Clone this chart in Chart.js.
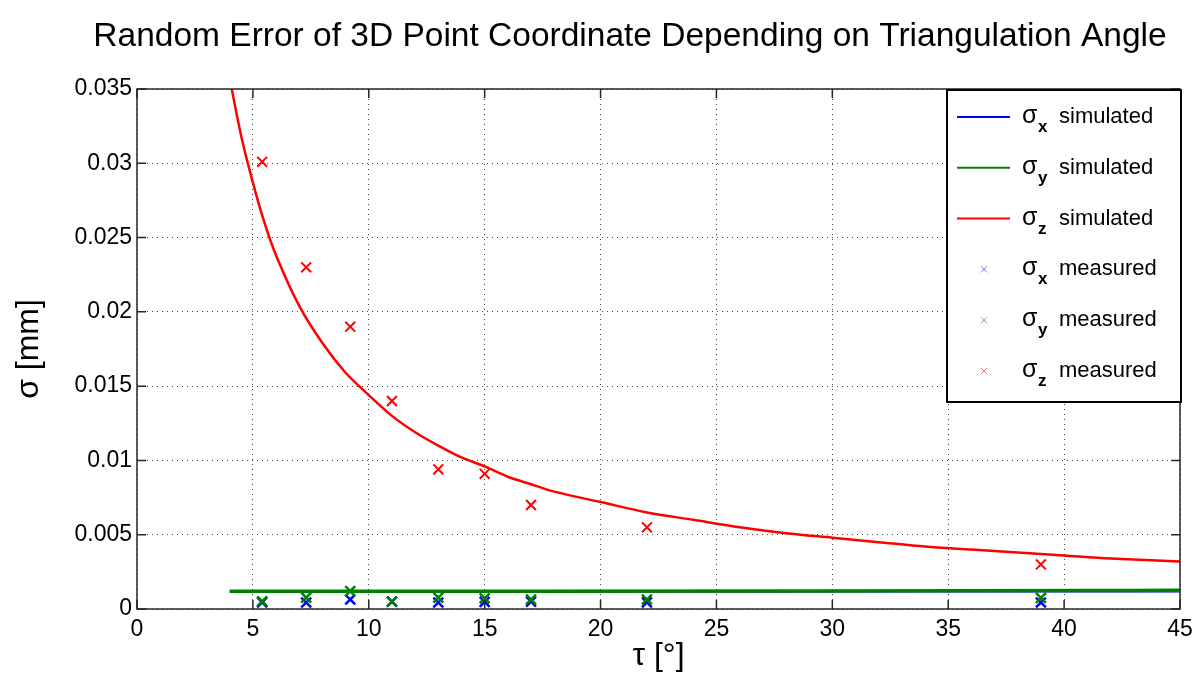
<!DOCTYPE html>
<html>
<head>
<meta charset="utf-8">
<script src="https://cdn.jsdelivr.net/npm/chart.js@4"></script>
<style>
  html, body { margin: 0; padding: 0; background: #fff; }
</style>
</head>
<body>
<canvas id="chart" width="1195" height="675"></canvas>
<script>
// simulated curves
const tauSim = [4, 4.5, 5, 5.5, 6, 7, 8, 9, 10, 11, 12, 13, 14, 15, 16, 17, 18, 20, 22, 24, 26, 28, 30, 32, 34, 36, 38, 40, 42, 45];
const sigmaZSim = [0.0357, 0.0318, 0.0287, 0.0260, 0.0238, 0.0204, 0.0179, 0.0159, 0.0144, 0.0130, 0.0119, 0.0110, 0.0102, 0.0096, 0.0089, 0.0084, 0.0079, 0.0072, 0.0065, 0.0060, 0.0055, 0.0051, 0.0048, 0.0045, 0.0042, 0.0040, 0.0038, 0.0036, 0.0034, 0.0032];
const tauFlat = [4, 30, 41, 45];
const sigmaXSim = [0.00117, 0.00117, 0.00117, 0.00117];
const sigmaYSim = [0.00120, 0.00121, 0.00124, 0.00127];

// measured points
const tauMeas = [5.4, 7.3, 9.2, 11.0, 13.0, 15.0, 17.0, 22.0, 39.0];
const sigmaXMeas = [0.00045, 0.00044, 0.00064, 0.00050, 0.00044, 0.00048, 0.00050, 0.00045, 0.00044];
const sigmaYMeas = [0.00052, 0.00077, 0.00120, 0.00050, 0.00077, 0.00072, 0.00064, 0.00064, 0.00075];
const sigmaZMeas = [0.0301, 0.0230, 0.0190, 0.0140, 0.0094, 0.0091, 0.0070, 0.0055, 0.0030];

// axes
const xTickValues = [0, 5, 10, 15, 20, 25, 30, 35, 40, 45];
const xTickLabels = ['0', '5', '10', '15', '20', '25', '30', '35', '40', '45'];
const yTickValues = [0, 0.005, 0.01, 0.015, 0.02, 0.025, 0.03, 0.035];
const yTickLabels = ['0', '0.005', '0.01', '0.015', '0.02', '0.025', '0.03', '0.035'];

const titleText = 'Random Error of 3D Point Coordinate Depending on Triangulation Angle';

const BLUE = '#0000ff', GREEN = '#008000', RED = '#ff0000';
const FONT = 'Liberation Sans, Arial, sans-serif';

const pts = (xs, ys) => xs.map((x, i) => ({ x: x, y: ys[i] }));

function simLine(ys, xs, color, width, order, sub) {
  return {
    data: pts(xs, ys), borderColor: color, backgroundColor: color,
    showLine: true, borderWidth: width, pointRadius: 0, tension: 0.3,
    clip: 0, order: order, sub: sub, word: 'simulated', kind: 'line'
  };
}
function measSet(ys, color, order, sub, width) {
  return {
    data: pts(tauMeas, ys), borderColor: color, backgroundColor: color,
    showLine: false, pointStyle: 'crossRot', pointRadius: 7, pointBorderWidth: width,
    order: order, sub: sub, word: 'measured', kind: 'point'
  };
}

const datasets = [
  simLine(sigmaXSim, tauFlat, BLUE, 2, 6, 'x'),
  simLine(sigmaYSim, tauFlat, GREEN, 3.5, 5, 'y'),
  simLine(sigmaZSim, tauSim, RED, 2.5, 4, 'z'),
  measSet(sigmaXMeas, BLUE, 3, 'x', 2.5),
  measSet(sigmaYMeas, GREEN, 2, 'y', 2.5),
  measSet(sigmaZMeas, RED, 1, 'z', 2),
];

// MATLAB-like title, box, inward ticks and legend
const matlabBox = {
  id: 'matlabBox',
  afterDraw(chart) {
    const { ctx, chartArea: a, scales } = chart;
    const xs = scales.x, ys = scales.y;
    ctx.save();

    ctx.fillStyle = '#000';
    ctx.font = '33.5px ' + FONT;
    ctx.textAlign = 'center';
    ctx.textBaseline = 'middle';
    ctx.fillText(titleText, 630, 37);

    ctx.strokeStyle = '#262626';
    ctx.lineWidth = 1.5;
    ctx.strokeRect(a.left, a.top, a.right - a.left, a.bottom - a.top);
    ctx.beginPath();
    const tl = 9;
    xTickValues.forEach(v => {
      const px = xs.getPixelForValue(v);
      ctx.moveTo(px, a.bottom); ctx.lineTo(px, a.bottom - tl);
      ctx.moveTo(px, a.top); ctx.lineTo(px, a.top + tl);
    });
    yTickValues.forEach(v => {
      const py = ys.getPixelForValue(v);
      ctx.moveTo(a.left, py); ctx.lineTo(a.left + tl, py);
      ctx.moveTo(a.right, py); ctx.lineTo(a.right - tl, py);
    });
    ctx.stroke();

    // legend
    const w = 234, h = 312;
    const x0 = a.right - w + 1, y0 = a.top;
    ctx.fillStyle = '#fff';
    ctx.fillRect(x0, y0, w, h);
    ctx.lineWidth = 2;
    ctx.strokeStyle = '#000';
    ctx.strokeRect(x0, y0 + 1, w, h);
    chart.data.datasets.forEach((ds, i) => {
      const cy = y0 + 28 + i * 50.8;
      ctx.strokeStyle = ds.borderColor;
      if (ds.kind === 'line') {
        ctx.lineWidth = 2;
        ctx.beginPath();
        ctx.moveTo(x0 + 10, cy); ctx.lineTo(x0 + 63, cy);
        ctx.stroke();
      } else {
        ctx.globalAlpha = 0.6;
        ctx.lineWidth = 1;
        ctx.beginPath();
        ctx.moveTo(x0 + 34, cy - 3); ctx.lineTo(x0 + 40, cy + 3);
        ctx.moveTo(x0 + 40, cy - 3); ctx.lineTo(x0 + 34, cy + 3);
        ctx.stroke();
        ctx.globalAlpha = 1;
      }
      ctx.fillStyle = '#000';
      ctx.textBaseline = 'alphabetic';
      ctx.textAlign = 'left';
      ctx.font = '25px ' + FONT;
      ctx.fillText('σ', x0 + 75, cy + 6);
      ctx.font = 'bold 17px ' + FONT;
      ctx.fillText(ds.sub, x0 + 91, cy + 15);
      ctx.font = '22px ' + FONT;
      ctx.fillText(ds.word, x0 + 112, cy + 6);
    });
    ctx.restore();
  }
};

new Chart(document.getElementById('chart'), {
  type: 'scatter',
  data: { datasets: datasets },
  plugins: [matlabBox],
  options: {
    responsive: false,
    animation: false,
    layout: { padding: { left: 0, right: 15, top: 89, bottom: 0 } },
    plugins: {
      legend: { display: false },
      tooltip: { enabled: false },
      title: { display: false }
    },
    scales: {
      x: {
        type: 'linear', min: 0, max: 45,
        afterBuildTicks: s => { s.ticks = xTickValues.map(v => ({ value: v })); },
        afterFit: s => { s.height = 66; s.paddingLeft = 0; s.paddingRight = 0; },
        ticks: {
          color: '#000', padding: 7,
          font: { family: FONT, size: 23 },
          callback: (v, i) => xTickLabels[i]
        },
        grid: { color: '#444', lineWidth: 1, drawTicks: false },
        border: { display: false, dash: [1, 4] },
        title: {
          display: true, text: 'τ [°]', color: '#000',
          font: { family: FONT, size: 32 }, padding: { top: 0, bottom: 0 }
        }
      },
      y: {
        type: 'linear', min: 0, max: 0.035,
        afterBuildTicks: s => { s.ticks = yTickValues.map(v => ({ value: v })); },
        afterFit: s => { s.width = 137; s.paddingTop = 0; s.paddingBottom = 0; },
        ticks: {
          color: '#000', padding: 5,
          font: { family: FONT, size: 23 },
          callback: (v, i) => yTickLabels[i]
        },
        grid: { color: '#444', lineWidth: 1, drawTicks: false },
        border: { display: false, dash: [1, 4] },
        title: {
          display: true, text: 'σ [mm]', color: '#000',
          font: { family: FONT, size: 32 }, padding: { top: 10, bottom: 10 }
        }
      }
    }
  }
});
</script>
</body>
</html>
